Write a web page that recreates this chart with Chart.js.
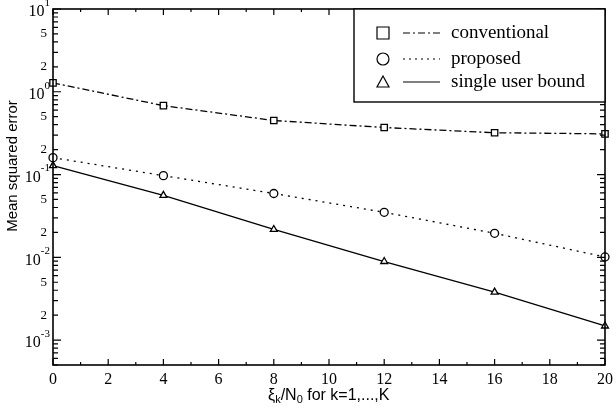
<!DOCTYPE html>
<html>
<head>
<meta charset="utf-8">
<script src="https://cdn.jsdelivr.net/npm/chart.js@4"></script>
<style>
  body { margin: 0; background: #fff; }
  #wrap { width: 616px; height: 410px; position: relative; }
</style>
</head>
<body>
<div id="wrap"><canvas id="mse-chart"></canvas></div>
<script>
// data
const xValues = [0, 4, 8, 12, 16, 20];
const conventional = [1.28, 0.68, 0.45, 0.37, 0.32, 0.31];
const proposed = [0.16, 0.097, 0.059, 0.035, 0.0195, 0.0101];
const singleUser = [0.128, 0.056, 0.0217, 0.0089, 0.0038, 0.00148];
const xTicks = [0, 2, 4, 6, 8, 10, 12, 14, 16, 18, 20];
const yDecades = [-3, -2, -1, 0, 1];
const yMantissaLabels = [2, 5];
const seriesNames = ['conventional', 'proposed', 'single user bound'];

function toPoints(ys) {
  return xValues.map((x, i) => ({ x: x, y: ys[i] }));
}

// frame, ticks, labels and legend
const axesPlugin = {
  id: 'axesPlugin',
  afterDraw(chart) {
    const ctx = chart.ctx;
    const a = chart.chartArea;
    const xs = chart.scales.x;
    const ys = chart.scales.y;
    ctx.save();
    ctx.strokeStyle = '#000';
    ctx.fillStyle = '#000';

    // frame
    ctx.lineWidth = 1.6;
    ctx.strokeRect(a.left, a.top, a.right - a.left, a.bottom - a.top);

    ctx.lineWidth = 1.2;
    // x ticks (major every 2, minor every 1)
    for (let v = 0; v <= 20; v++) {
      const px = xs.getPixelForValue(v);
      const len = v % 2 === 0 ? 6 : 3;
      ctx.beginPath();
      ctx.moveTo(px, a.bottom); ctx.lineTo(px, a.bottom - len);
      ctx.moveTo(px, a.top); ctx.lineTo(px, a.top + len);
      ctx.stroke();
    }
    // y ticks
    for (let e = -4; e <= 1; e++) {
      for (let m = 1; m <= 9; m++) {
        const val = m * Math.pow(10, e);
        if (val < ys.min * 0.999 || val > ys.max * 1.001) continue;
        const py = ys.getPixelForValue(val);
        const len = m === 1 ? 8 : 5;
        ctx.beginPath();
        ctx.moveTo(a.left, py); ctx.lineTo(a.left + len, py);
        ctx.moveTo(a.right, py); ctx.lineTo(a.right - len, py);
        ctx.stroke();
      }
    }

    // x tick labels
    ctx.font = '16px "Liberation Serif", serif';
    ctx.textAlign = 'center';
    ctx.textBaseline = 'top';
    xTicks.forEach(v => {
      ctx.fillText(String(v), xs.getPixelForValue(v), a.bottom + 7);
    });

    // y tick labels
    ctx.textBaseline = 'middle';
    yDecades.forEach(e => {
      const py = ys.getPixelForValue(Math.pow(10, e));
      ctx.font = '11px "Liberation Serif", serif';
      ctx.textAlign = 'left';
      const expText = String(e);
      const expW = ctx.measureText(expText).width;
      ctx.fillText(expText, a.left - 3 - expW, py - 6);
      ctx.font = '16px "Liberation Serif", serif';
      ctx.textAlign = 'right';
      ctx.fillText('10', a.left - 3 - expW, py + 3);
      yMantissaLabels.forEach(m => {
        const val = m * Math.pow(10, e);
        if (val > ys.max) return;
        ctx.font = '13px "Liberation Serif", serif';
        ctx.textAlign = 'right';
        ctx.fillText(String(m), a.left - 6, ys.getPixelForValue(val));
      });
    });

    // axis titles
    ctx.font = '15px "Liberation Sans", Arial, sans-serif';
    ctx.save();
    ctx.translate(13, 166);
    ctx.rotate(-Math.PI / 2);
    ctx.textAlign = 'center';
    ctx.textBaseline = 'middle';
    ctx.fillText('Mean squared error', 0, 0);
    ctx.restore();

    ctx.textAlign = 'left';
    ctx.textBaseline = 'alphabetic';
    let tx = 268;
    const ty = 400;
    ctx.font = '16px "Liberation Sans", Arial, sans-serif';
    ctx.fillText('ξ', tx, ty); tx += ctx.measureText('ξ').width;
    ctx.font = '11px "Liberation Sans", Arial, sans-serif';
    ctx.fillText('k', tx, ty + 3); tx += ctx.measureText('k').width;
    ctx.font = '16px "Liberation Sans", Arial, sans-serif';
    ctx.fillText('/N', tx, ty); tx += ctx.measureText('/N').width;
    ctx.font = '11px "Liberation Sans", Arial, sans-serif';
    ctx.fillText('0', tx, ty + 3); tx += ctx.measureText('0').width;
    ctx.font = '16px "Liberation Sans", Arial, sans-serif';
    ctx.fillText(' for k=1,...,K', tx, ty);

    // legend
    const lx = 354, ly = a.top, lw = a.right - lx, lh = 93;
    ctx.fillStyle = '#fff';
    ctx.fillRect(lx, ly, lw, lh);
    ctx.lineWidth = 1.4;
    ctx.strokeRect(lx, ly, lw, lh);
    const rows = [33, 59, 82];
    const dashes = [[7, 3, 2, 3], [2, 4], []];
    ctx.font = '19px "Liberation Serif", serif';
    ctx.textBaseline = 'middle';
    rows.forEach((ry, i) => {
      const mx = 383;
      ctx.strokeStyle = '#000';
      ctx.lineWidth = 1.2;
      ctx.setLineDash([]);
      ctx.beginPath();
      if (i === 0) {
        ctx.rect(mx - 6, ry - 6, 12, 12);
      } else if (i === 1) {
        ctx.arc(mx, ry, 6, 0, Math.PI * 2);
      } else {
        ctx.moveTo(mx, ry - 6); ctx.lineTo(mx + 6, ry + 5); ctx.lineTo(mx - 6, ry + 5); ctx.closePath();
      }
      ctx.stroke();
      ctx.setLineDash(dashes[i]);
      ctx.beginPath();
      ctx.moveTo(403, ry); ctx.lineTo(440, ry);
      ctx.stroke();
      ctx.setLineDash([]);
      ctx.fillStyle = '#000';
      ctx.fillText(seriesNames[i], 451, ry);
    });
    ctx.restore();
  }
};

const chartEl = document.getElementById('mse-chart');
new Chart(chartEl, {
  type: 'line',
  data: {
    datasets: [
      {
        label: seriesNames[0],
        data: toPoints(conventional),
        borderColor: '#000', borderWidth: 1.3, borderDash: [7, 3, 2, 3],
        pointStyle: 'rect', pointRadius: 4.5, pointBorderWidth: 1.3,
        pointBackgroundColor: '#fff', pointBorderColor: '#000', tension: 0
      },
      {
        label: seriesNames[1],
        data: toPoints(proposed),
        borderColor: '#000', borderWidth: 1.3, borderDash: [2, 5],
        pointStyle: 'circle', pointRadius: 4, pointBorderWidth: 1.3,
        pointBackgroundColor: '#fff', pointBorderColor: '#000', tension: 0
      },
      {
        label: seriesNames[2],
        data: toPoints(singleUser),
        borderColor: '#000', borderWidth: 1.3,
        pointStyle: 'triangle', pointRadius: 4, pointBorderWidth: 1.3,
        pointBackgroundColor: '#fff', pointBorderColor: '#000', tension: 0
      }
    ]
  },
  options: {
    responsive: true,
    maintainAspectRatio: false,
    animation: false,
    clip: false,
    layout: { padding: { left: 53, right: 11, top: 9, bottom: 45 } },
    scales: {
      x: { type: 'linear', min: 0, max: 20, display: false },
      y: { type: 'logarithmic', min: 5e-4, max: 10, display: false }
    },
    plugins: {
      legend: { display: false },
      tooltip: { enabled: false }
    }
  },
  plugins: [axesPlugin]
});
</script>
</body>
</html>
